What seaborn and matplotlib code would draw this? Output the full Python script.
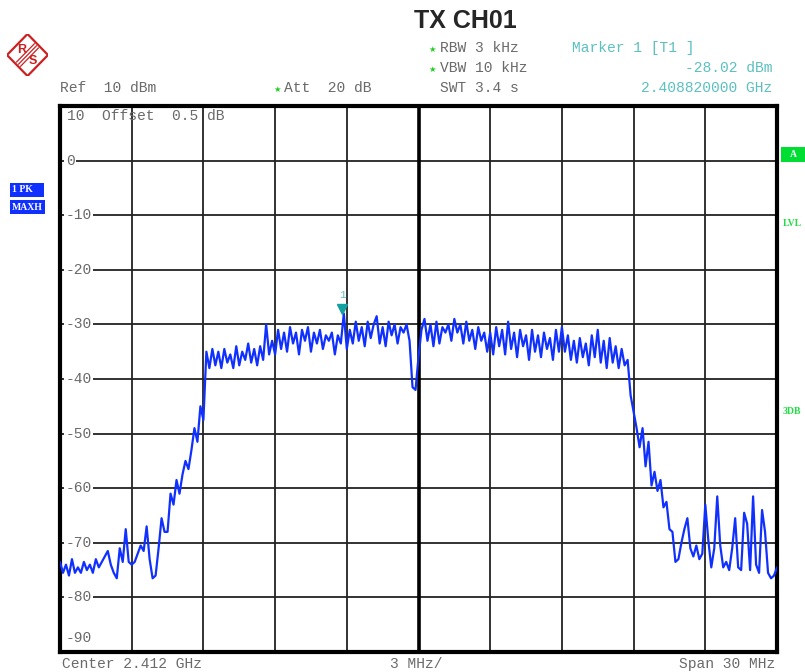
import numpy as np
import pandas as pd
import matplotlib
matplotlib.use("Agg")
import matplotlib.pyplot as plt
import matplotlib.transforms as mtransforms
from matplotlib.patches import Rectangle, Polygon
import seaborn as sns

W, H = 805, 672

# ── trace, one row per 3 MHz division (max hold, dBm) ──────────────────────
trace_dbm = [
    -73.5, -75.5, -74, -76, -73, -75.5, -74.5, -75.5, -73.5, -75, -74, -75.5,
    -73, -74.5, -73.5, -72.5, -71.5, -74, -75.5, -76.5, -71, -73.5, -67.5, -73.5,
    -74, -73.5, -72, -70.5, -71.5, -67, -73, -76.5, -76, -71, -65.5, -68,
    -68, -61, -63, -58.5, -61, -57.5, -55, -56.5, -53, -49, -51.5, -45,
    -47.5, -35, -38, -34.5, -37.5, -35, -38, -34.5, -37, -35.5, -38, -34,
    -37.5, -35, -36.5, -33.5, -37, -34.5, -37.5, -34, -36.5, -30, -35.5, -33,
    -35.5, -31, -34.5, -31.5, -35, -30.5, -33.5, -31.5, -35.5, -31, -33, -30.5,
    -35, -31.5, -33.5, -31, -34.5, -32, -33, -31.5, -35.5, -32, -33.5, -28,
    -34.5, -31, -33.5, -29.5, -33, -30.5, -34, -29.5, -32.5, -30, -28.5, -33.5,
    -30.5, -34, -29.5, -32, -30, -33.5, -30.5, -31.5, -30, -33, -41.5, -42,
    -36, -31, -29, -33, -30, -34, -29.5, -33.5, -30.5, -31.5, -30, -33,
    -29, -31.5, -30, -33.5, -29.5, -33, -31, -34.5, -30.5, -33, -31.5, -35,
    -31.5, -35.5, -30.5, -34, -31, -35.5, -29.5, -34.5, -31.5, -36, -31, -34,
    -32, -36.5, -31, -35, -32, -36, -31.5, -34.5, -32.5, -36.5, -31, -35,
    -30.5, -35, -32, -36.5, -33, -37, -32.5, -36, -33.5, -37.5, -32, -36,
    -31, -37, -33, -38, -32.5, -37, -34, -38, -34.5, -37.5, -36.5, -43,
    -46, -49, -52.5, -49, -56, -51.5, -59.5, -57, -60.5, -58.5, -63.5, -62.5,
    -67.5, -68, -73.5, -73, -70, -67.5, -65.5, -71, -72.5, -70.5, -73, -72,
    -63, -69.5, -74.5, -71, -61.5, -70.5, -74.5, -73.5, -75, -71, -65.5, -74.5,
    -75, -64.5, -66.5, -75, -61.5, -74, -75.5, -64, -68, -75.5, -76.5, -76,
    -74.5,
]
span_mhz = 30
ref_dbm = 10
level_ticks = [0, -10, -20, -30, -40, -50, -60, -70, -80, -90]
marker_freq_mhz = -3.18
marker_dbm = -28.02

# sweep points are evenly spaced over the span
freq_mhz = np.linspace(-span_mhz / 2, span_mhz / 2, len(trace_dbm))
df = pd.DataFrame({"freq": freq_mhz, "level": trace_dbm})

sns.set_style("white")
plt.rcParams["font.family"] = ["Liberation Mono", "DejaVu Sans Mono"]

GRAY = "#6a6a6a"
CYAN = "#5cc0c0"
GREEN = "#22cc22"
BLUE = "#1030ff"


def fx(x):
    return x / W


def fy(y):
    return 1 - y / H


fig = plt.figure(figsize=(W / 100, H / 100), dpi=100)

# ── main screen ───────────────────────────────────────────────────────────
ax = fig.add_axes([fx(60), fy(652), fx(777) - fx(60), fy(106) - fy(652)])
sns.lineplot(data=df, x="freq", y="level", ax=ax, color=BLUE, lw=1.6,
             estimator=None, zorder=5)
ax.set_xlim(-span_mhz / 2, span_mhz / 2)
ax.set_ylim(ref_dbm - 100, ref_dbm)
ax.set_xticks(np.arange(-15, 16, 3))
ax.set_yticks(np.arange(-90, 11, 10))
ax.grid(True, color="#222222", lw=1.3)
ax.tick_params(length=0, labelbottom=False, labelleft=False)
ax.set_xlabel("")
ax.set_ylabel("")
for s in ax.spines.values():
    s.set_linewidth(3)
    s.set_color("black")
ax.axvline(0, color="black", lw=2.6, zorder=3)

lbl_kw = dict(fontsize=10.5, color=GRAY, va="center", ha="left", zorder=4,
              bbox=dict(facecolor="white", edgecolor="none", pad=1.0))
for v in level_ticks[:-1]:
    ax.text(-14.76, v, str(v), **lbl_kw)
ax.text(-14.76, -87.5, str(level_ticks[-1]), **lbl_kw)
ax.text(-14.7, 8.2, "10  Offset  0.5 dB", fontsize=10.5, color=GRAY,
        va="center", ha="left", zorder=4)

# marker 1
tri = mtransforms.offset_copy(ax.transData, fig=fig, y=5, units="dots")
ax.plot([marker_freq_mhz], [marker_dbm], marker="v", ms=7, color="#12a0a0",
        transform=tri, clip_on=False, zorder=6)
num = mtransforms.offset_copy(ax.transData, fig=fig, y=19, units="dots")
ax.text(marker_freq_mhz, marker_dbm, "1", transform=num, ha="center",
        va="center", fontsize=8, color=CYAN)

# ── header texts ──────────────────────────────────────────────────────────
fig.text(fx(465), fy(21), "TX CH01", ha="center", va="center", fontsize=18,
         fontweight="bold", family=["Liberation Sans", "DejaVu Sans"])

txt_kw = dict(fontsize=10.5, color=GRAY, va="center")
star_kw = dict(fontsize=6, color=GREEN, va="center", family=["DejaVu Sans"])
fig.text(fx(428), fy(49), "★", **star_kw)
fig.text(fx(440), fy(48), "RBW 3 kHz", **txt_kw)
fig.text(fx(428), fy(69), "★", **star_kw)
fig.text(fx(440), fy(68), "VBW 10 kHz", **txt_kw)
fig.text(fx(440), fy(88), "SWT 3.4 s", **txt_kw)
fig.text(fx(60), fy(88), "Ref  10 dBm", **txt_kw)
fig.text(fx(273), fy(89), "★", **star_kw)
fig.text(fx(284), fy(88), "Att  20 dB", **txt_kw)

fig.text(fx(572), fy(48), "Marker 1 [T1 ]", fontsize=10.5, color=CYAN,
         va="center")
fig.text(fx(772), fy(68), f"{marker_dbm:.2f} dBm", fontsize=10.5, color=CYAN,
         va="center", ha="right")
fig.text(fx(772), fy(88), "2.408820000 GHz", fontsize=10.5, color=CYAN,
         va="center", ha="right")

# ── footer texts ──────────────────────────────────────────────────────────
fig.text(fx(62), fy(664), "Center 2.412 GHz", **txt_kw)
fig.text(fx(390), fy(664), "3 MHz/", **txt_kw)
fig.text(fx(775), fy(664), "Span 30 MHz", ha="right", **txt_kw)


# ── side boxes ────────────────────────────────────────────────────────────
def box(x0, y0, x1, y1, color, text, tcolor="white", ha="left"):
    fig.patches.append(Rectangle((fx(x0), fy(y1)), fx(x1) - fx(x0),
                                 fy(y0) - fy(y1), transform=fig.transFigure,
                                 facecolor=color, edgecolor="none"))
    tx = fx(x0 + 2) if ha == "left" else fx((x0 + x1) / 2)
    fig.text(tx, fy((y0 + y1) / 2), text, color=tcolor, fontsize=7,
             fontweight="bold", va="center", ha=ha,
             family=["Liberation Serif", "DejaVu Serif"])


box(10, 183, 44, 197, BLUE, "1 PK")
box(10, 200, 45, 214, BLUE, "MAXH")
box(781, 147, 805, 162, "#00dd33", "A", ha="center")
fig.text(fx(783), fy(223), "LVL", color="#22dd44", fontsize=7,
         fontweight="bold", va="center", family=["Liberation Serif"])
fig.text(fx(783), fy(412), "3DB", color="#22dd44", fontsize=7,
         fontweight="bold", va="center", family=["Liberation Serif"])

# ── R&S logo ──────────────────────────────────────────────────────────────
lg = fig.add_axes([fx(7), fy(76), fx(41), fy(34) - fy(76)])
lg.set_xlim(0, 1)
lg.set_ylim(0, 1)
lg.axis("off")
red = "#cc2020"
lg.add_patch(Polygon([(0.5, 1), (1, 0.5), (0.5, 0), (0, 0.5)], closed=True,
                     fill=False, edgecolor=red, lw=1.6))
for d in (-0.05, 0.0, 0.05):
    lg.plot([0.72 + d, 0.28 + d], [0.72 - d, 0.28 - d], color=red, lw=0.9)
lg.text(0.36, 0.63, "R", color=red, fontsize=9, fontweight="bold",
        ha="center", va="center", family=["Liberation Sans"])
lg.text(0.64, 0.36, "S", color=red, fontsize=9, fontweight="bold",
        ha="center", va="center", family=["Liberation Sans"])

fig.savefig("out.png", dpi=100)
